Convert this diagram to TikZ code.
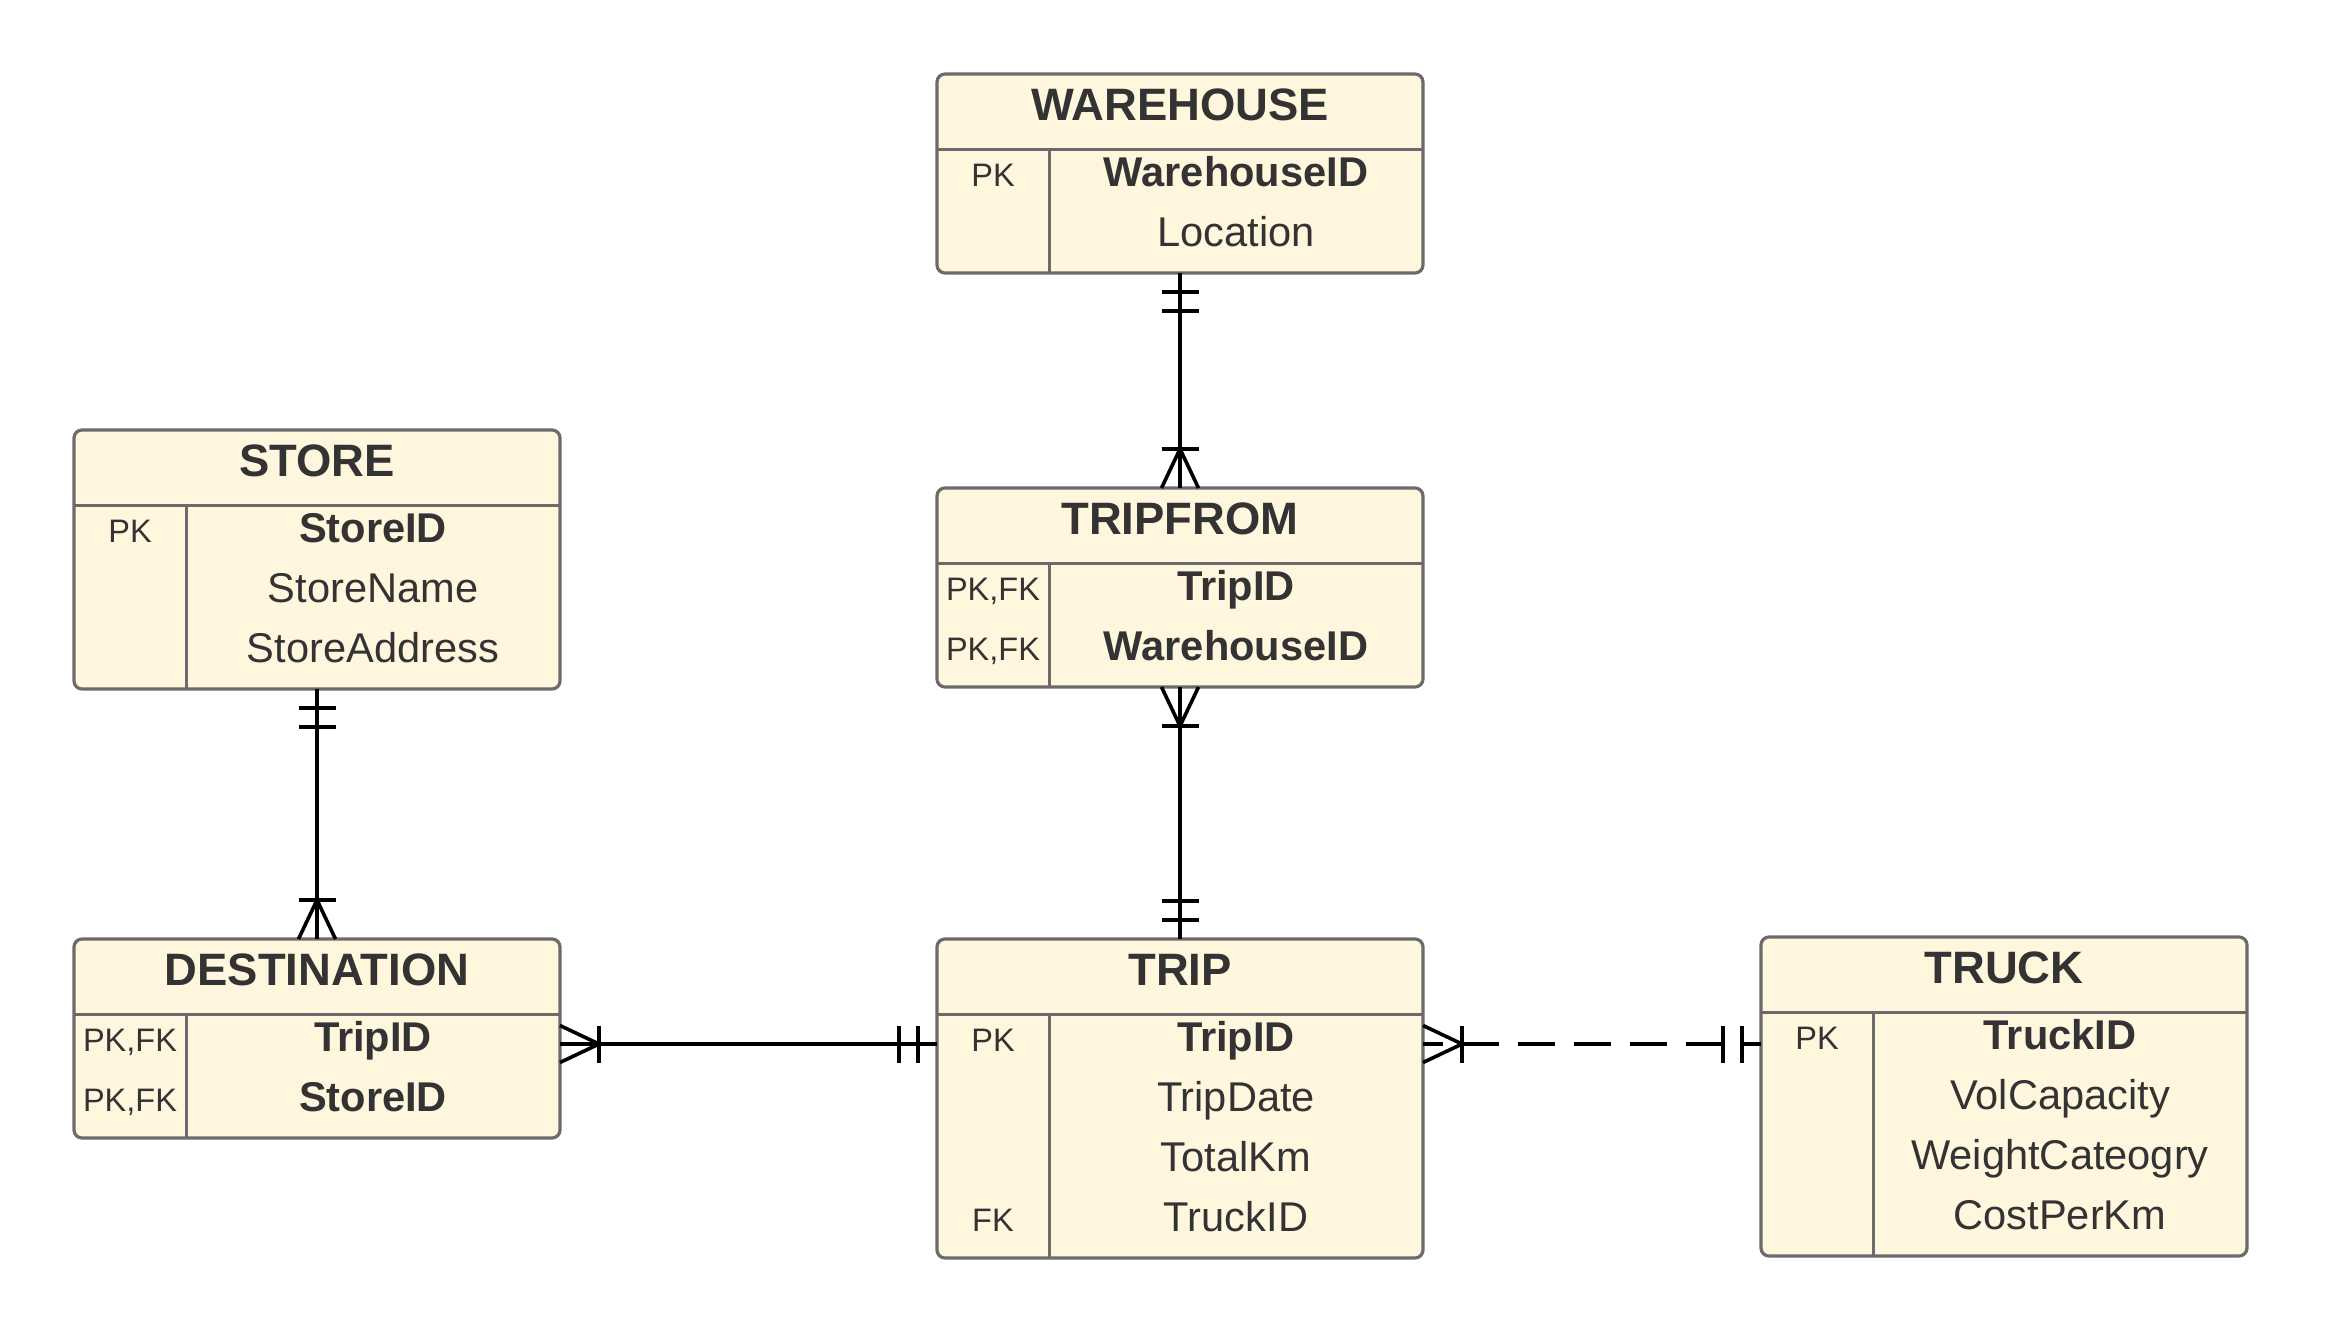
\documentclass[tikz,border=0pt]{standalone}
\usepackage{fontspec}
\setmainfont{Liberation Sans}
\usetikzlibrary{calc}
\definecolor{ercream}{HTML}{FFF6DE}
\definecolor{erborder}{HTML}{6B6B6B}
\definecolor{ertext}{HTML}{333333}
\tikzset{
  erframe/.style={draw=erborder, fill=ercream, line width=1.6pt, rounded corners=4pt,
    minimum width=243pt, inner sep=0pt, outer sep=0pt, anchor=north west},
  ersep/.style={draw=erborder, line width=1.5pt},
  ertitle/.style={text=ertext, inner sep=0pt, anchor=base, font=\fontsize{22.7pt}{27pt}\selectfont\bfseries},
  erattr/.style={text=ertext, inner sep=0pt, anchor=base, font=\fontsize{20.8pt}{24pt}\selectfont},
  erkey/.style={text=ertext, inner sep=0pt, anchor=base, font=\fontsize{16.25pt}{19pt}\selectfont},
  conn/.style={draw=black, line width=1.8pt},
}
% table frame: #1 name, #2 left, #3 top, #4 rows, #5 title
\newcommand\erbox[5]{%
  \pgfmathsetmacro\erH{139+60*(#4-1)}%
  \node[erframe, minimum height=\erH*0.5pt] (#1) at (#2,#3) {};
  \node[ertitle] (#1-t) at (#2+243,#3+46) {#5};
  \draw[ersep] (#2,#3+75) -- (#2+486,#3+75);
  \draw[ersep] (#2+112,#3+75) -- (#2+112,#3+\erH);
}
% key text: #1 name, #2 left, #3 top, #4 row, #5 text
\newcommand\erkeytext[5]{\node[erkey] (#1-k#4) at (#2+56,#3+112+60*#4) {#5};}
\newcommand\erattrtext[5]{\node[erattr] (#1-a#4) at (#2+299,#3+112+60*#4) {#5};}
% marks
\newcommand\ermandv[2]{%
  \draw[conn] ($(#1)+(-18.5,19*#2)$) -- ++(37,0);
  \draw[conn] ($(#1)+(-18.5,38*#2)$) -- ++(37,0);}
\newcommand\ercrowv[2]{%
  \draw[conn] ($(#1)+(-18.5,39*#2)$) -- ++(37,0);
  \draw[conn] ($(#1)+(-18.5,0)$) -- ($(#1)+(0,39*#2)$);
  \draw[conn] ($(#1)+(18.5,0)$) -- ($(#1)+(0,39*#2)$);}
\newcommand\ermandh[2]{%
  \draw[conn] ($(#1)+(19*#2,-18.5)$) -- ++(0,37);
  \draw[conn] ($(#1)+(38*#2,-18.5)$) -- ++(0,37);}
\newcommand\ercrowh[2]{%
  \draw[conn] ($(#1)+(39*#2,-18.5)$) -- ++(0,37);
  \draw[conn] ($(#1)+(0,-18.5)$) -- ($(#1)+(39*#2,0)$);
  \draw[conn] ($(#1)+(0,18.5)$) -- ($(#1)+(39*#2,0)$);}
\begin{document}
\begin{tikzpicture}[x=0.5pt,y=-0.5pt]
\fill[white] (0,0) rectangle (2325,1333);
\useasboundingbox (0,0) rectangle (2325,1333);

% WAREHOUSE
\erbox{wh}{937}{74}{2}{WAREHOUSE}
\erkeytext{wh}{937}{74}{0}{PK}
\erattrtext{wh}{937}{74}{0}{\textbf{WarehouseID}}
\erattrtext{wh}{937}{74}{1}{Location}

% STORE
\erbox{st}{74}{430}{3}{STORE}
\erkeytext{st}{74}{430}{0}{PK}
\erattrtext{st}{74}{430}{0}{\textbf{StoreID}}
\erattrtext{st}{74}{430}{1}{StoreName}
\erattrtext{st}{74}{430}{2}{StoreAddress}

% TRIPFROM
\erbox{tf}{937}{488}{2}{TRIPFROM}
\erkeytext{tf}{937}{488}{0}{PK,FK}
\erkeytext{tf}{937}{488}{1}{PK,FK}
\erattrtext{tf}{937}{488}{0}{\textbf{TripID}}
\erattrtext{tf}{937}{488}{1}{\textbf{WarehouseID}}

% DESTINATION
\erbox{de}{74}{939}{2}{DESTINATION}
\erkeytext{de}{74}{939}{0}{PK,FK}
\erkeytext{de}{74}{939}{1}{PK,FK}
\erattrtext{de}{74}{939}{0}{\textbf{TripID}}
\erattrtext{de}{74}{939}{1}{\textbf{StoreID}}

% TRIP
\erbox{tr}{937}{939}{4}{TRIP}
\erkeytext{tr}{937}{939}{0}{PK}
\erkeytext{tr}{937}{939}{3}{FK}
\erattrtext{tr}{937}{939}{0}{\textbf{TripID}}
\erattrtext{tr}{937}{939}{1}{TripDate}
\erattrtext{tr}{937}{939}{2}{TotalKm}
\erattrtext{tr}{937}{939}{3}{TruckID}

% TRUCK
\erbox{tk}{1761}{937}{4}{TRUCK}
\erkeytext{tk}{1761}{937}{0}{PK}
\erattrtext{tk}{1761}{937}{0}{\textbf{TruckID}}
\erattrtext{tk}{1761}{937}{1}{VolCapacity}
\erattrtext{tk}{1761}{937}{2}{WeightCateogry}
\erattrtext{tk}{1761}{937}{3}{CostPerKm}

% connectors
\coordinate (rowy) at (0,1044);
\coordinate (deE) at (de.east |- rowy);
\coordinate (trW) at (tr.west |- rowy);
\coordinate (trE) at (tr.east |- rowy);
\coordinate (tkW) at (tk.west |- rowy);

\draw[conn] (wh.south) -- (tf.north);
\ermandv{wh.south}{1}
\ercrowv{tf.north}{-1}

\draw[conn] (tf.south) -- (tr.north);
\ercrowv{tf.south}{1}
\ermandv{tr.north}{-1}

\draw[conn] (st.south) -- (de.north);
\ermandv{st.south}{1}
\ercrowv{de.north}{-1}

\draw[conn] (deE) -- (trW);
\ercrowh{deE}{1}
\ermandh{trW}{-1}

\draw[conn, dash pattern=on 18.5pt off 9.5pt, dash phase=8.5pt] (trE) -- (tkW);
\ercrowh{trE}{1}
\ermandh{tkW}{-1}
\end{tikzpicture}
\end{document}
